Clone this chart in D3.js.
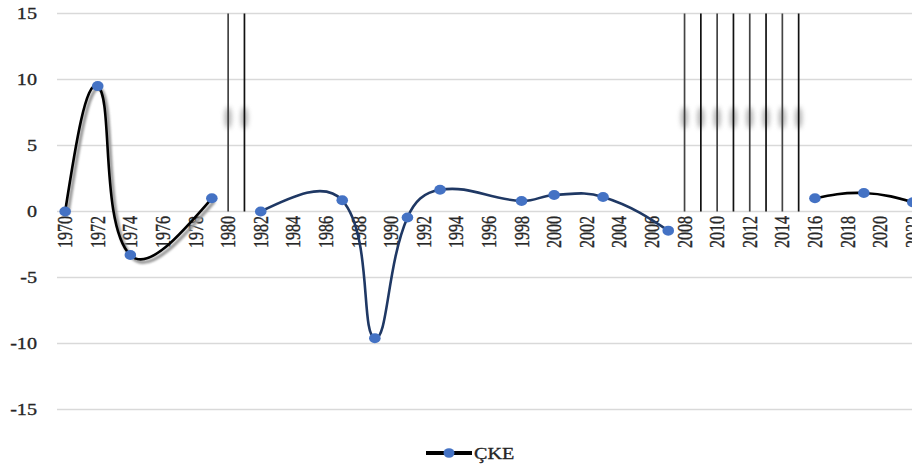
<!DOCTYPE html>
<html>
<head>
<meta charset="utf-8">
<script src="https://cdn.jsdelivr.net/npm/d3@7"></script>
<style>
  body { margin: 0; background: #fff; }
  svg { display: block; }
  text { font-family: "Liberation Serif", "Times New Roman", serif; fill: #262626; stroke: #262626; stroke-width: 0.3px; }
</style>
</head>
<body>
<div id="chartContainer"></div>
<script>
// categories (one per year) and the labelled ones
const years = d3.range(1970, 2023);
const xTickYears = [1970, 1972, 1974, 1976, 1978, 1980, 1982, 1984, 1986, 1988, 1990, 1992, 1994,
  1996, 1998, 2000, 2002, 2004, 2006, 2008, 2010, 2012, 2014, 2016, 2018, 2020, 2022];
const yTicks = [-15, -10, -5, 0, 5, 10, 15];

// series ÇKE: years that have a value, and the values
const pointYears = [1970, 1972, 1974, 1979, 1982, 1987, 1989, 1991, 1993, 1998, 2000, 2003, 2007, 2016, 2019, 2022];
const pointValues = [0, 9.5, -3.3, 1.0, 0, 0.85, -9.6, -0.45, 1.65, 0.8, 1.25, 1.1, -1.45, 1.0, 1.4, 0.7];

// years drawn as vertical lines running off the top of the chart
const spikeYears = [1980, 1981, 2008, 2009, 2010, 2011, 2012, 2013, 2014, 2015];

const legendLabel = "ÇKE";

const chartWidth = 912;
const chartHeight = 470;
const stretch = 1.26; // text in the picture is wider than tall

const svg = d3.select("#chartContainer").append("svg")
  .attr("width", chartWidth)
  .attr("height", chartHeight);

const defs = svg.append("defs");
defs.append("filter").attr("id", "blur3")
  .attr("x", "-200%").attr("y", "-100%").attr("width", "500%").attr("height", "300%")
  .append("feGaussianBlur").attr("stdDeviation", 2.5);
defs.append("filter").attr("id", "blur1")
  .append("feGaussianBlur").attr("stdDeviation", 1.2);

const xScale = d3.scaleBand()
  .domain(years)
  .range([57, 57 + years.length * 16.3])
  .padding(0);
const xc = yr => xScale(yr) + xScale.bandwidth() / 2;

const yScale = d3.scaleLinear()
  .domain([-15, 15])
  .range([409.5, 13.5]);

// gridlines
svg.append("g")
  .selectAll("line")
  .data(yTicks)
  .enter().append("line")
  .attr("x1", 57)
  .attr("x2", chartWidth)
  .attr("y1", d => yScale(d))
  .attr("y2", d => yScale(d))
  .style("stroke", "#d9d9d9")
  .style("stroke-width", 1.3);

// y labels
svg.append("g")
  .selectAll("text")
  .data(yTicks)
  .enter().append("text")
  .attr("transform", d => `translate(37, ${yScale(d) + 5.5}) scale(${stretch},1)`)
  .attr("text-anchor", "end")
  .style("font-size", "16px")
  .text(d => d);

// x labels, rotated
svg.append("g")
  .selectAll("text")
  .data(xTickYears)
  .enter().append("text")
  .attr("transform", d => `translate(${xc(d)}, 216) scale(${stretch},1) rotate(-90)`)
  .attr("text-anchor", "end")
  .attr("dy", "0.35em")
  .style("font-size", "16px")
  .text(d => d);

// vertical spike lines with their blurred smudge
const spikes = svg.append("g");
spikes.selectAll("ellipse")
  .data(spikeYears)
  .enter().append("ellipse")
  .attr("cx", d => xc(d))
  .attr("cy", yScale(7.1))
  .attr("rx", 3.5)
  .attr("ry", 11)
  .style("fill", "#777")
  .style("opacity", 0.55)
  .attr("filter", "url(#blur3)");
spikes.selectAll("line")
  .data(spikeYears)
  .enter().append("line")
  .attr("x1", d => xc(d))
  .attr("x2", d => xc(d))
  .attr("y1", yScale(15))
  .attr("y2", yScale(0))
  .style("stroke", (d, i) => i % 2 ? "#111" : "#444")
  .style("stroke-width", 1.7);

// split the points into segments wherever a spike year sits between them
const points = pointYears.map((yr, i) => ({ year: yr, value: pointValues[i] }));
const segments = [[points[0]]];
for (let i = 1; i < points.length; i++) {
  const prev = points[i - 1].year, cur = points[i].year;
  if (spikeYears.some(s => s > prev && s < cur)) segments.push([]);
  segments[segments.length - 1].push(points[i]);
}
const segColors = ["#000000", "#1f3864", "#000000"];

// office-style smoothing: tangents split by the length of the neighbouring segments
function smoothPath(data, k = 0.42) {
  const P = data.map(d => [xc(d.year), yScale(d.value)]);
  const n = P.length;
  const path = d3.path();
  path.moveTo(P[0][0], P[0][1]);
  if (n < 3) {
    for (let i = 1; i < n; i++) path.lineTo(P[i][0], P[i][1]);
    return path.toString();
  }
  const cb = [], ca = [];
  for (let i = 1; i < n - 1; i++) {
    const dx = P[i + 1][0] - P[i - 1][0], dy = P[i + 1][1] - P[i - 1][1];
    const l1 = Math.hypot(P[i][0] - P[i - 1][0], P[i][1] - P[i - 1][1]);
    const l2 = Math.hypot(P[i + 1][0] - P[i][0], P[i + 1][1] - P[i][1]);
    const f1 = k * l1 / (l1 + l2), f2 = k * l2 / (l1 + l2);
    cb[i] = [P[i][0] - dx * f1, P[i][1] - dy * f1];
    ca[i] = [P[i][0] + dx * f2, P[i][1] + dy * f2];
  }
  ca[0] = [(P[0][0] + cb[1][0]) / 2, (P[0][1] + cb[1][1]) / 2];
  cb[n - 1] = [(P[n - 1][0] + ca[n - 2][0]) / 2, (P[n - 1][1] + ca[n - 2][1]) / 2];
  for (let i = 0; i < n - 1; i++) {
    path.bezierCurveTo(ca[i][0], ca[i][1], cb[i + 1][0], cb[i + 1][1], P[i + 1][0], P[i + 1][1]);
  }
  return path.toString();
}

// soft grey shadow under the first segment
svg.append("path")
  .attr("d", smoothPath(segments[0]))
  .attr("transform", "translate(2.5,3)")
  .attr("filter", "url(#blur1)")
  .style("fill", "none")
  .style("stroke", "#9a9a9a")
  .style("stroke-width", 3.5);

svg.append("g")
  .selectAll("path")
  .data(segments)
  .enter().append("path")
  .attr("d", d => smoothPath(d))
  .style("fill", "none")
  .style("stroke", (d, i) => segColors[i % segColors.length])
  .style("stroke-width", 2.6)
  .style("stroke-linejoin", "round");

// markers
svg.append("g")
  .selectAll("ellipse")
  .data(points)
  .enter().append("ellipse")
  .attr("cx", d => xc(d.year))
  .attr("cy", d => yScale(d.value))
  .attr("rx", 5.8)
  .attr("ry", 5)
  .style("fill", "#4472c4");

// legend
const legend = svg.append("g");
legend.append("line")
  .attr("x1", 426).attr("x2", 472)
  .attr("y1", 453).attr("y2", 453)
  .style("stroke", "#000")
  .style("stroke-width", 4);
legend.append("ellipse")
  .attr("cx", 449).attr("cy", 453)
  .attr("rx", 5.5).attr("ry", 4.8)
  .style("fill", "#4472c4");
legend.append("text")
  .attr("transform", `translate(474, 459) scale(${stretch},1)`)
  .style("font-size", "16px")
  .text(legendLabel);
</script>
</body>
</html>
